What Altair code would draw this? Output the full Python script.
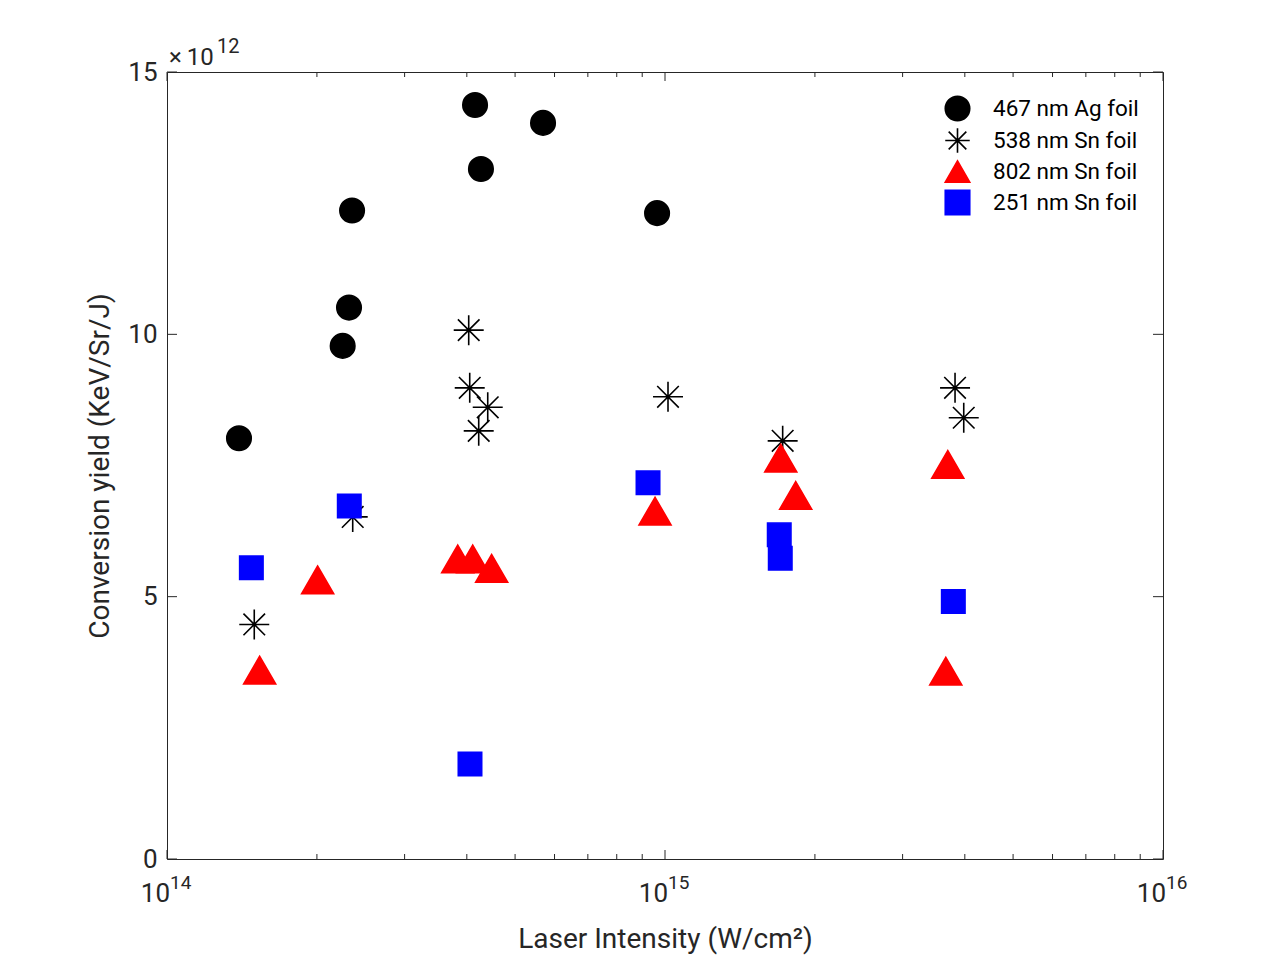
import altair as alt
import pandas as pd

# ---------------- data (y in units of 1e12 KeV/Sr/J) ----------------
series_names = ["467 nm Ag foil", "538 nm Sn foil", "802 nm Sn foil", "251 nm Sn foil"]

ag467_x = [1.395e14, 2.253e14, 2.32e14, 2.353e14, 4.155e14, 4.27e14, 5.69e14, 9.64e14]
ag467_y = [8.02, 9.78, 10.51, 12.36, 14.37, 13.15, 14.03, 12.31]

sn538_x = [1.497e14, 2.36e14, 4.035e14, 4.054e14, 4.406e14, 4.226e14, 1.014e15, 1.723e15, 3.823e15, 3.98e15]
sn538_y = [4.47, 6.52, 10.08, 8.98, 8.61, 8.16, 8.81, 7.97, 8.98, 8.41]

sn802_x = [1.535e14, 2.007e14, 3.835e14, 4.11e14, 4.487e14, 9.55e14, 1.708e15, 1.83e15, 3.697e15, 3.663e15]
sn802_y = [3.60, 5.32, 5.72, 5.72, 5.54, 6.63, 7.64, 6.93, 7.52, 3.58]

sn251_x = [1.477e14, 2.323e14, 4.059e14, 9.245e14, 1.696e15, 1.704e15, 3.793e15]
sn251_y = [5.55, 6.73, 1.81, 7.17, 6.18, 5.73, 4.91]

x_major = [1e14, 1e15, 1e16]
x_major_exp = ["14", "15", "16"]
x_minor = [2e14, 3e14, 4e14, 5e14, 6e14, 7e14, 8e14, 9e14,
           2e15, 3e15, 4e15, 5e15, 6e15, 7e15, 8e15, 9e15]
y_ticks = [0, 5, 10, 15]

# ---------------- marker styles ----------------
asterisk = "M-1,0L1,0M0,-1L0,1M-0.72,-0.72L0.72,0.72M-0.72,0.72L0.72,-0.72"
shapes = ["circle", asterisk, "triangle-up", "square"]
colors = ["#000000", "#000000", "#ff0000", "#0000ff"]
marker_sizes = [600, 900, 1024, 548]

# ---------------- build table ----------------
rows = []
for i, (name, xs, ys) in enumerate(zip(series_names,
                                       [ag467_x, sn538_x, sn802_x, sn251_x],
                                       [ag467_y, sn538_y, sn802_y, sn251_y])):
    for xv, yv in zip(xs, ys):
        rows.append({"series": name, "x": xv, "y": yv, "order": i, "sz": marker_sizes[i]})
df = pd.DataFrame(rows)

W, H = 996, 787
AX = "#262626"
FONT = "Roboto"

xscale = alt.Scale(type="log", domain=[1e14, 1e16])
yscale = alt.Scale(domain=[0, 15])

points = alt.Chart(df).mark_point(filled=True, opacity=1, strokeWidth=1.6).encode(
    x=alt.X("x:Q", scale=xscale,
            axis=alt.Axis(title="Laser Intensity (W/cm²)", labels=False, ticks=False,
                          domain=False, grid=False, titleFontSize=28, titleFont=FONT,
                          titleFontWeight="normal", titleColor=AX, titlePadding=66)),
    y=alt.Y("y:Q", scale=yscale,
            axis=alt.Axis(title="Conversion yield (KeV/Sr/J)", values=y_ticks, format="d",
                          ticks=False, domain=False, grid=False,
                          labelFontSize=26, labelFont=FONT, labelColor=AX, labelPadding=10,
                          titleFontSize=28, titleFont=FONT, titleFontWeight="normal",
                          titleColor=AX, titlePadding=13)),
    color=alt.Color("series:N", scale=alt.Scale(domain=series_names, range=colors),
                    legend=alt.Legend(title=None, orient="none", legendX=777, legendY=23,
                                      labelFontSize=22.5, labelFont=FONT, labelColor="#000000",
                                      symbolSize=600, symbolStrokeWidth=1.6,
                                      labelOffset=22, rowPadding=1, padding=0)),
    stroke=alt.Stroke("series:N", scale=alt.Scale(domain=series_names, range=colors),
                      legend=None),
    shape=alt.Shape("series:N", scale=alt.Scale(domain=series_names, range=shapes)),
    size=alt.Size("sz:Q", scale=None),
    order=alt.Order("order:Q"),
)

# ---------------- inward ticks ----------------
major_df = pd.DataFrame({"v": x_major, "e": x_major_exp})
minor_df = pd.DataFrame({"v": x_minor})
ytick_df = pd.DataFrame({"v": y_ticks})

def xticks(data, length):
    bottom = alt.Chart(data).mark_rule(color=AX, strokeWidth=1).encode(
        x=alt.X("v:Q", scale=xscale), y=alt.value(H), y2=alt.value(H - length))
    top = alt.Chart(data).mark_rule(color=AX, strokeWidth=1).encode(
        x=alt.X("v:Q", scale=xscale), y=alt.value(0), y2=alt.value(length))
    return bottom + top

yt = alt.Chart(ytick_df).mark_rule(color=AX, strokeWidth=1).encode(
    y=alt.Y("v:Q", scale=yscale), x=alt.value(0), x2=alt.value(10))
yt2 = alt.Chart(ytick_df).mark_rule(color=AX, strokeWidth=1).encode(
    y=alt.Y("v:Q", scale=yscale), x=alt.value(W), x2=alt.value(W - 10))

# ---------------- x tick labels 10^n ----------------
base_lbl = alt.Chart(major_df).mark_text(align="right", baseline="alphabetic", dx=3,
                                         fontSize=26, font=FONT, color=AX).encode(
    x=alt.X("v:Q", scale=xscale), y=alt.value(H + 43), text=alt.value("10"))
exp_lbl = alt.Chart(major_df).mark_text(align="left", baseline="alphabetic", dx=3,
                                        fontSize=19, font=FONT, color=AX).encode(
    x=alt.X("v:Q", scale=xscale), y=alt.value(H + 30), text="e:N")

# ---------------- x10^12 multiplier ----------------
mult = alt.Chart(pd.DataFrame({"t": ["×\u200910"]})).mark_text(
    align="left", baseline="alphabetic", fontSize=24, font=FONT, color=AX).encode(
    x=alt.value(2), y=alt.value(-7), text="t:N")
mult_exp = alt.Chart(pd.DataFrame({"t": ["12"]})).mark_text(
    align="left", baseline="alphabetic", fontSize=20, font=FONT, color=AX).encode(
    x=alt.value(50), y=alt.value(-19), text="t:N")

chart = alt.layer(
    xticks(major_df, 9), xticks(minor_df, 5), yt, yt2,
    points, base_lbl, exp_lbl, mult, mult_exp
).properties(
    width=W, height=H,
    autosize=alt.AutoSizeParams(type="none"),
    padding={"left": 159, "top": 64, "right": 100, "bottom": 105},
    background="white",
).configure_view(stroke=AX, strokeWidth=1)

chart.save("out.html", embed_options={"renderer": "svg", "actions": False})
